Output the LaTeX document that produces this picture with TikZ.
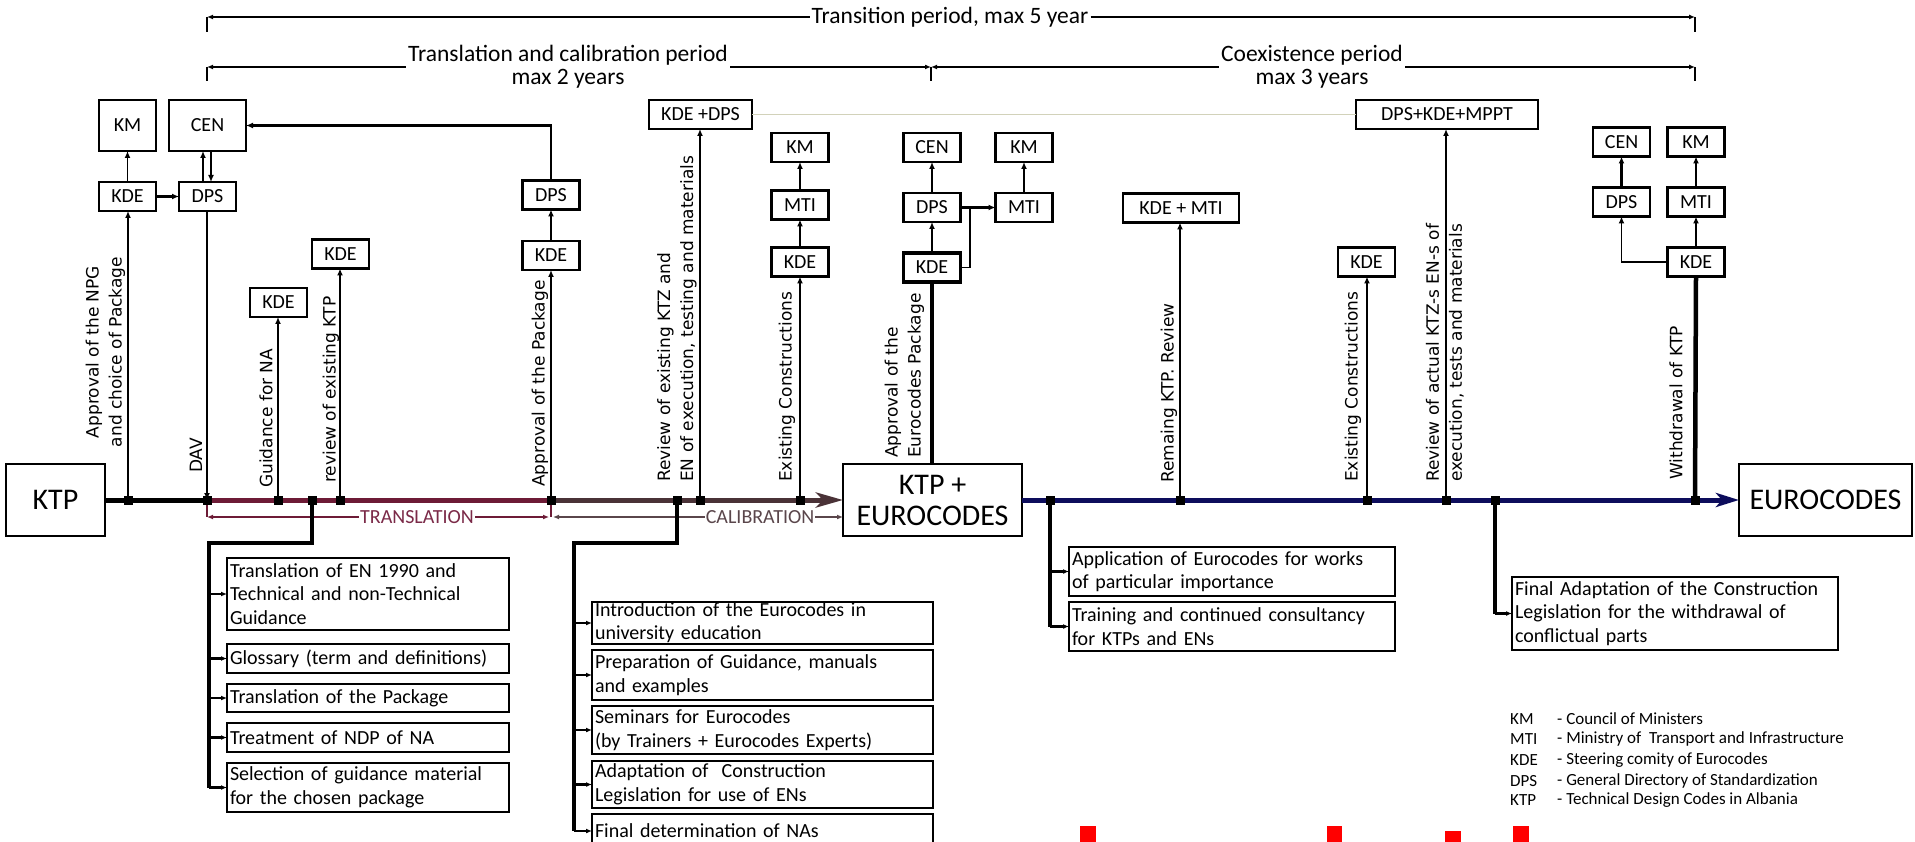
\documentclass[tikz,border=0pt]{standalone}
\usepackage{fontspec}
\setmainfont{Carlito}
\newfontfamily\vfont{DejaVu Sans}
\usetikzlibrary{arrows.meta}
\definecolor{cMar}{HTML}{6D1B36}
\definecolor{cBrn}{HTML}{4A3237}
\definecolor{cNav}{HTML}{0D0D5C}
\definecolor{cTMar}{HTML}{7B2A48}
\definecolor{cTCal}{HTML}{5A464B}
\definecolor{cLight}{HTML}{D2D2BA}
\begin{document}
\begin{tikzpicture}[x=1pt,y=-1pt,
  sbox/.style={draw, line width=2.8pt, minimum width=57pt, minimum height=29pt, inner sep=0pt, outer sep=0pt, font=\fontsize{20}{24}\selectfont},
  bigbox/.style={draw, line width=2pt, inner sep=0pt, outer sep=0pt, align=center, font=\fontsize{30}{31}\selectfont},
  tbox/.style={draw, line width=2.8pt, inner xsep=3pt, inner ysep=0pt, outer sep=0pt, anchor=west, align=left, font=\fontsize{20}{23.5}\selectfont},
  vlab/.style={rotate=90, inner sep=0pt, anchor=west, align=left, font=\vfont\fontsize{17}{23}\selectfont},
  toplab/.style={inner xsep=2pt, inner ysep=0pt, align=center, font=\fontsize{23.5}{23}\selectfont},
  leglab/.style={anchor=west, inner sep=0pt, font=\fontsize{17}{19}\selectfont},
  ahead/.style={-{Latex[length=7pt,width=6pt]}},
  dtip/.style={-{Latex[length=6pt,width=5pt]}},
  thinl/.style={line width=1.3pt},
  medl/.style={line width=2.4pt},
  thickl/.style={line width=4.5pt},
]
\useasboundingbox (0,0) rectangle (1915,842);
\fill[white] (0,0) rectangle (1915,842);

% ---------- top dimension lines
\coordinate (tL) at (207,17); \coordinate (tR) at (1695,17);
\node[toplab] (ttrans) at (950,17) {Transition period, max 5 year};
\draw[thinl,dtip] (ttrans.west) -- (tL);
\draw[thinl,dtip] (ttrans.east) -- (tR);
\draw[thinl] (tL) -- ++(0,15);
\draw[thinl] (tR) -- ++(0,15);

\coordinate (cL) at (207,67); \coordinate (cM) at (931,67); \coordinate (cR) at (1695,67);
\node[toplab] (tcal) at (568,67) {Translation and calibration period\\max 2 years};
\node[toplab] (tcoe) at (1312,67) {Coexistence period\\max 3 years};
\draw[thinl,dtip] (tcal.west) -- (cL);
\draw[thinl,dtip] (tcal.east) -- (cM);
\draw[thinl,dtip] (tcoe.west) -- (cM);
\draw[thinl,dtip] (tcoe.east) -- (cR);
\foreach \c in {cL,cM,cR} \draw[thinl] (\c) -- ++(0,14);

% ---------- small boxes
\node[sbox, minimum height=51pt] (KM1) at (127.5,125.5) {KM};
\node[sbox, minimum width=77pt, minimum height=51pt] (CEN1) at (207.5,125.5) {CEN};
\node[sbox] (KDE1) at (127.5,196.5) {KDE};
\node[sbox] (DPS1) at (207.5,196.5) {DPS};
\node[sbox] (DPS2) at (551,195) {DPS};
\node[sbox] (KDE2) at (551,255.5) {KDE};
\node[sbox] (KDE3) at (278.5,302.5) {KDE};
\node[sbox] (KDE4) at (340.5,254) {KDE};
\node[sbox, minimum width=103pt] (KDEDPS) at (700.5,114.5) {KDE +DPS};
\node[sbox] (KM2) at (800,147.5) {KM};
\node[sbox] (MTI1) at (800,205) {MTI};
\node[sbox] (KDE5) at (800,262) {KDE};
\node[sbox] (CEN2) at (932,147.5) {CEN};
\node[sbox] (DPS3) at (932,207.5) {DPS};
\node[sbox, line width=3.4pt] (KDE6) at (932,267.5) {KDE};
\node[sbox] (KM3) at (1024,147.5) {KM};
\node[sbox] (MTI2) at (1024,207.5) {MTI};
\node[sbox, minimum width=116pt] (KDEMTI) at (1181,208) {KDE + MTI};
\node[sbox, minimum width=182pt] (MPPT) at (1447,114.5) {DPS+KDE+MPPT};
\node[sbox] (KDE7) at (1366.5,262) {KDE};
\node[sbox] (CEN3) at (1621.5,142) {CEN};
\node[sbox] (KM4) at (1696,142) {KM};
\node[sbox] (DPS4) at (1621.5,202) {DPS};
\node[sbox] (MTI3) at (1696,202) {MTI};
\node[sbox] (KDE8) at (1696,262) {KDE};

% ---------- big boxes
\node[bigbox, minimum width=99pt, minimum height=72pt] (KTP) at (55.5,500) {KTP};
\node[bigbox, minimum width=179pt, minimum height=72pt] (KTPEU) at (932.5,500) {KTP +\\EUROCODES};
\node[bigbox, minimum width=173pt, minimum height=72pt] (EURO) at (1825.5,500) {EUROCODES};

% ---------- junction points on the main line
\foreach \n/\x in {j1/128, jDAV/207, jGui/278, jB1/312, jRev/340, jApp/551, jB2/677, jKTZ/700, jEx1/800, jB3/1050, jRem/1180, jEx2/1367, jAct/1446, jB4/1495, jWd/1695}
  \coordinate (\n) at (\x,500);

% ---------- main line
\draw[line width=5pt] (KTP.east) -- (jDAV);
\draw[line width=5pt, cMar] (jDAV) -- (jApp);
\draw[line width=5pt, cBrn, -{Stealth[length=27pt,width=15pt,inset=7pt]}] (jApp) -- (KTPEU.west);
\draw[line width=5pt, cNav, -{Stealth[length=23pt,width=14pt,inset=6pt]}] (KTPEU.east) -- (EURO.west);

% ---------- verticals from the main line
\draw[thinl, ahead] (j1) -- (j1 |- KDE1.south);
\draw[thinl, ahead] (DPS1.south -| jDAV) -- (jDAV);
\draw[thinl, ahead] (jGui) -- (jGui |- KDE3.south);
\draw[medl, ahead] (jRev) -- (jRev |- KDE4.south);
\draw[medl, ahead] (jApp) -- (KDE2.south);
\draw[medl, ahead] (jKTZ) -- (jKTZ |- KDEDPS.south);
\draw[medl, ahead] (jEx1) -- (KDE5.south);
\draw[thickl] (KTPEU.north -| KDE6.south) -- (KDE6.south);
\draw[medl, ahead] (jRem) -- (jRem |- KDEMTI.south);
\draw[medl, ahead] (jEx2) -- (jEx2 |- KDE7.south);
\draw[medl, ahead] (jAct) -- (jAct |- MPPT.south);
\draw[thickl] (jWd) -- (KDE8.south);

% ---------- box to box
\draw[thinl, ahead] (KDE1) -- (KM1);
\draw[medl, ahead] (KDE1) -- (DPS1);
\draw[thinl, ahead] ([xshift=-4.5pt]DPS1.north) -- ([xshift=-4.5pt]CEN1.south);
\draw[medl, ahead] ([xshift=3.5pt]CEN1.south) -- ([xshift=3.5pt]DPS1.north);
\draw[medl, ahead] (KDE2) -- (DPS2);
\draw[medl, ahead] (DPS2.north) |- (CEN1.east);
\draw[medl, ahead] (KDE5) -- (MTI1);
\draw[medl, ahead] (MTI1) -- (KM2);
\draw[medl, ahead] (KDE6) -- (DPS3);
\draw[medl, ahead] (DPS3) -- (CEN2);
\draw[medl, ahead] (DPS3) -- (MTI2);
\draw[medl, ahead] (MTI2) -- (KM3);
\coordinate (kx) at (970,207.5);
\draw[thinl] (KDE6.east) -| (kx);
\draw[thinl, cLight] (KDEDPS) -- (MPPT);
\draw[medl, ahead] (KDE8) -- (MTI3);
\draw[thinl, ahead] (MTI3) -- (KM4);
\draw[thinl, ahead] (KDE8.west) -| (DPS4.south);
\draw[medl, ahead] (DPS4) -- (CEN3);

% ---------- rotated labels
\node[vlab, anchor=center, align=center] (lNPG) at (105.5,352) {Approval of the NPG\\and choice of Package};
\node[vlab] (lDAV) at (196,473) {DAV};
\node[vlab] (lGui) at (266,488) {Guidance for NA};
\node[vlab] (lRev) at (331,483) {review of existing KTP};
\node[vlab] (lApp) at (540,487) {Approval of the Package};
\node[vlab] (lKTZ) at (677,482) {Review of existing KTZ and\\EN of execution, testing and materials};
\node[vlab] (lEx1) at (787,482) {Existing Constructions};
\node[vlab] (lAEP) at (904.5,458) {Approval of the\\Eurocodes Package};
\node[vlab] (lRem) at (1169,483) {Remaing KTP. Review};
\node[vlab] (lEx2) at (1353,482) {Existing Constructions};
\node[vlab] (lAct) at (1445,482) {Review of actual KTZ-s EN-s of\\execution, tests and materials};
\node[vlab] (lWd) at (1676,480) {Withdrawal of KTP};

% ---------- translation / calibration
\coordinate (trA) at (207,517); \coordinate (trB) at (549,517); \coordinate (caA) at (553,517);
\node[inner sep=1pt, font=\fontsize{20}{22}\selectfont, text=cTMar] (ltr) at (417,517) {TRANSLATION};
\node[inner sep=1pt, font=\fontsize{20}{22}\selectfont, text=cTCal] (lca) at (760,517) {CALIBRATION};
\draw[thinl, cMar] (jDAV) -- (trA);
\draw[thinl, cMar, dtip] (ltr.west) -- (trA);
\draw[thinl, cMar, dtip] (ltr.east) -- (trB);
\draw[thinl, cMar] (jApp) -- (jApp |- trB);
\draw[thinl, cTCal, dtip] (lca.west) -- (caA);
\draw[thinl, cTCal, dtip] (lca.east) -- (KTPEU.west |- lca.east);

% ---------- bottom boxes, group 1
\node[tbox, text width=276pt, minimum height=72pt] (t1) at (227,594) {Translation of EN 1990 and\\Technical and non-Technical\\Guidance};
\node[tbox, text width=276pt, minimum height=29pt] (t2) at (227,658.5) {Glossary (term and definitions)};
\node[tbox, text width=276pt, minimum height=28pt] (t3) at (227,698) {Translation of the Package};
\node[tbox, text width=276pt, minimum height=29pt] (t4) at (227,737.5) {Treatment of NDP of NA};
\node[tbox, text width=276pt, minimum height=49pt] (t5) at (227,787.5) {Selection of guidance material\\for the chosen package};
\coordinate (b1a) at (312,543); \coordinate (b1b) at (209,543);
\draw[thickl] (jB1) -- (b1a) -- (b1b) -- (b1b |- t5.west);
\foreach \b in {t1,t2,t3,t4,t5} \draw[medl, dtip] (b1b |- \b.west) -- (\b.west);

% ---------- bottom boxes, group 2
\node[tbox, text width=335pt, minimum height=42pt, font=\fontsize{20}{23}\selectfont] (c1) at (592,623) {Introduction of the Eurocodes in\\university education};
\node[tbox, text width=335pt, minimum height=50pt] (c2) at (592,675) {Preparation of Guidance, manuals\\and examples};
\node[tbox, text width=335pt, minimum height=48pt] (c3) at (592,730) {Seminars for Eurocodes\\(by Trainers + Eurocodes Experts)};
\node[tbox, text width=335pt, minimum height=47pt] (c4) at (592,784.5) {Adaptation of\ \ Construction\\Legislation for use of ENs};
\node[tbox, text width=335pt, minimum height=34pt] (c5) at (592,831) {Final determination of NAs};
\coordinate (b2a) at (677,543); \coordinate (b2b) at (574,543);
\draw[thickl] (jB2) -- (b2a) -- (b2b) -- (b2b |- c5.west);
\foreach \b in {c1,c2,c3,c4,c5} \draw[medl, dtip] (b2b |- \b.west) -- (\b.west);

% ---------- bottom boxes, group 3 and 4
\node[tbox, text width=320pt, minimum height=49pt] (a1) at (1069,571.5) {Application of Eurocodes for works\\of particular importance};
\node[tbox, text width=320pt, minimum height=49pt] (a2) at (1069,626.5) {Training and continued consultancy\\for KTPs and ENs};
\node[tbox, text width=320pt, minimum height=73pt] (f1) at (1512,613.5) {Final Adaptation of the Construction\\Legislation for the withdrawal of\\conflictual parts};
\draw[thickl] (jB3) -- (jB3 |- a2.west);
\foreach \b in {a1,a2} \draw[medl, dtip] (jB3 |- \b.west) -- (\b.west);
\draw[thickl] (jB4) -- (jB4 |- f1.west);
\draw[medl, dtip] (jB4 |- f1.west) -- (f1.west);

% ---------- junction squares
\foreach \n in {j1,jDAV,jGui,jB1,jRev,jApp,jB2,jKTZ,jEx1,jB3,jRem,jEx2,jAct,jB4,jWd}
  \fill (\n) ++(-4.5,-4.5) rectangle ++(9,9);

% ---------- legend
\foreach \i/\a/\b/\y in {1/KM/- Council of Ministers/719, 2/MTI/- Ministry of\ \ Transport and Infrastructure/739, 3/KDE/- Steering comity of Eurocodes/760, 4/DPS/- General Directory of Standardization/781, 5/KTP/- Technical Design Codes in Albania/800}
{
  \node[leglab] (la\i) at (1510,\y) {\a};
  \node[leglab] (lb\i) at (1557,\y) {\b};
}

% ---------- red marks
\fill[red] (1080,826) rectangle (1096,842);
\fill[red] (1327,826) rectangle (1342,842);
\fill[red] (1445,831) rectangle (1461,842);
\fill[red] (1513,826) rectangle (1529,842);
\end{tikzpicture}
\end{document}
